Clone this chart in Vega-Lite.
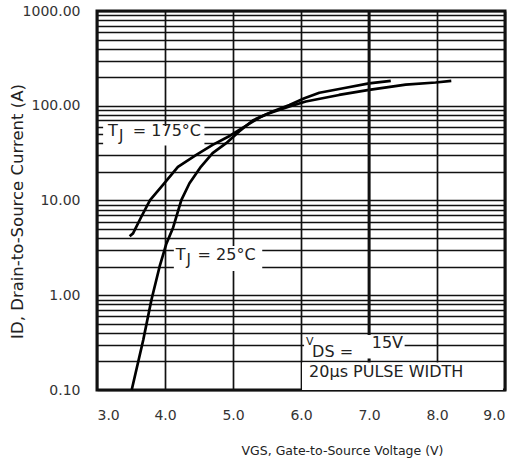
{
  "$schema": "https://vega.github.io/schema/vega-lite/v6.json",
  "width": 408,
  "height": 379,
  "autosize": {"type": "none"},
  "padding": {"left": 97, "top": 11, "right": 16, "bottom": 76},
  "background": "white",
  "config": {"view": {"stroke": "#111111", "strokeWidth": 3}, "font": "DejaVu Sans"},
  "datasets": {
    "curves": [
      {"s": "175", "v": 3.48, "i": 4.2},
      {"s": "175", "v": 3.53, "i": 4.5},
      {"s": "175", "v": 3.65, "i": 6.7},
      {"s": "175", "v": 3.78, "i": 10.1},
      {"s": "175", "v": 3.97, "i": 14.6},
      {"s": "175", "v": 4.19, "i": 22.6},
      {"s": "175", "v": 4.46, "i": 30.3},
      {"s": "175", "v": 4.70, "i": 38.6},
      {"s": "175", "v": 4.95, "i": 48},
      {"s": "175", "v": 5.20, "i": 62},
      {"s": "175", "v": 5.39, "i": 75},
      {"s": "175", "v": 5.60, "i": 88},
      {"s": "175", "v": 5.83, "i": 102},
      {"s": "175", "v": 6.05, "i": 120},
      {"s": "175", "v": 6.27, "i": 137},
      {"s": "175", "v": 6.66, "i": 155},
      {"s": "175", "v": 7.00, "i": 172},
      {"s": "175", "v": 7.32, "i": 183},
      {"s": "25", "v": 3.51, "i": 0.1},
      {"s": "25", "v": 3.68, "i": 0.337},
      {"s": "25", "v": 3.80, "i": 0.89},
      {"s": "25", "v": 3.92, "i": 2.0},
      {"s": "25", "v": 4.02, "i": 3.5},
      {"s": "25", "v": 4.12, "i": 5.2},
      {"s": "25", "v": 4.24, "i": 10.1},
      {"s": "25", "v": 4.36, "i": 15.2},
      {"s": "25", "v": 4.53, "i": 22.8},
      {"s": "25", "v": 4.70, "i": 31.6},
      {"s": "25", "v": 4.90, "i": 40.3},
      {"s": "25", "v": 5.09, "i": 53.4},
      {"s": "25", "v": 5.29, "i": 70},
      {"s": "25", "v": 5.50, "i": 82},
      {"s": "25", "v": 5.83, "i": 98},
      {"s": "25", "v": 6.07, "i": 111},
      {"s": "25", "v": 6.56, "i": 130},
      {"s": "25", "v": 7.00, "i": 147},
      {"s": "25", "v": 7.54, "i": 167},
      {"s": "25", "v": 7.98, "i": 176},
      {"s": "25", "v": 8.21, "i": 183}
    ],
    "boxes": [
      {"x": 3.09, "x2": 4.58, "y": 38, "y2": 61},
      {"x": 4.13, "x2": 5.43, "y": 1.8, "y2": 3.3},
      {"x": 6.045, "x2": 7.524, "y": 0.215, "y2": 0.38},
      {"x": 6.015, "x2": 8.97, "y": 0.1, "y2": 0.195}
    ],
    "bigtext": [
      {"x": 3.161, "y": 48, "t": "T"},
      {"x": 3.527, "y": 48, "t": "= 175°C"},
      {"x": 4.157, "y": 2.36, "t": "T"},
      {"x": 4.479, "y": 2.36, "t": "= 25°C"},
      {"x": 6.163, "y": 0.223, "t": "DS ="},
      {"x": 7.04, "y": 0.278, "t": "15V"},
      {"x": 6.119, "y": 0.138, "t": "20μs PULSE WIDTH"}
    ],
    "subj": [
      {"x": 3.322, "y": 42.6, "t": "J"},
      {"x": 4.318, "y": 2.09, "t": "J"}
    ],
    "smallv": [
      {"x": 6.075, "y": 0.2986, "t": "V"}
    ],
    "marker": [{"v": 7}]
  },
  "layer": [
    {
      "data": {"name": "curves"},
      "mark": {"type": "line", "stroke": "black", "strokeWidth": 2.7, "strokeJoin": "round"},
      "encoding": {
        "x": {
          "field": "v", "type": "quantitative",
          "scale": {"domain": [3, 9], "nice": false, "zero": false},
          "axis": {
            "values": [3, 4, 5, 6, 7, 8, 9],
            "format": ".1f",
            "grid": true, "gridColor": "#111111", "gridWidth": 1.7, "gridOpacity": 1,
            "ticks": false, "tickSize": 0, "domain": false,
            "labelFontSize": 14, "labelColor": "#333333", "labelPadding": 18,
            "labelFont": "DejaVu Sans",
            "title": "VGS, Gate-to-Source Voltage (V)",
            "titleFont": "DejaVu Sans", "titleFontSize": 12.5, "titleFontWeight": "normal",
            "titleColor": "#222222",
            "titleX": 245, "titleY": 64, "titleAlign": "center", "titleBaseline": "alphabetic"
          }
        },
        "y": {
          "field": "i", "type": "quantitative",
          "scale": {"type": "log", "domain": [0.1, 1000], "nice": false},
          "axis": {
            "values": [0.1, 0.2, 0.3, 0.4, 0.5, 0.6, 0.7, 0.8, 0.9, 1, 2, 3, 4, 5, 6, 7, 8, 9, 10, 20, 30, 40, 50, 60, 70, 80, 90, 100, 200, 300, 400, 500, 600, 700, 800, 900, 1000],
            "labelExpr": "indexof([0.1, 1, 10, 100, 1000], datum.value) >= 0 ? format(datum.value, '.2f') : ''",
            "grid": true, "gridColor": "#111111", "gridWidth": 1.7, "gridOpacity": 1,
            "ticks": false, "tickSize": 0, "domain": false,
            "labelFontSize": 14, "labelColor": "#333333", "labelPadding": 17,
            "labelFont": "DejaVu Sans",
            "title": "ID, Drain-to-Source Current  (A)",
            "titleFont": "DejaVu Sans", "titleFontSize": 16.5, "titleFontWeight": "normal",
            "titleColor": "#222222",
            "titleX": -80, "titleY": 200, "titleAngle": -90, "titleAlign": "center", "titleBaseline": "middle"
          }
        },
        "detail": {"field": "s", "type": "nominal"}
      }
    },
    {
      "data": {"name": "marker"},
      "mark": {"type": "rule", "stroke": "#111111", "strokeWidth": 2.8},
      "encoding": {"x": {"field": "v", "type": "quantitative"}}
    },
    {
      "data": {"name": "boxes"},
      "mark": {"type": "rect", "fill": "white", "stroke": null},
      "encoding": {
        "x": {"field": "x", "type": "quantitative"},
        "x2": {"field": "x2"},
        "y": {"field": "y", "type": "quantitative"},
        "y2": {"field": "y2"}
      }
    },
    {
      "data": {"name": "bigtext"},
      "mark": {"type": "text", "font": "DejaVu Sans", "fontSize": 16, "align": "left", "baseline": "alphabetic", "fill": "#222222"},
      "encoding": {
        "x": {"field": "x", "type": "quantitative"},
        "y": {"field": "y", "type": "quantitative"},
        "text": {"field": "t"}
      }
    },
    {
      "data": {"name": "subj"},
      "mark": {"type": "text", "font": "DejaVu Sans", "fontSize": 15, "align": "left", "baseline": "alphabetic", "fill": "#222222"},
      "encoding": {
        "x": {"field": "x", "type": "quantitative"},
        "y": {"field": "y", "type": "quantitative"},
        "text": {"field": "t"}
      }
    },
    {
      "data": {"name": "smallv"},
      "mark": {"type": "text", "font": "DejaVu Sans", "fontSize": 11, "align": "left", "baseline": "alphabetic", "fill": "#222222"},
      "encoding": {
        "x": {"field": "x", "type": "quantitative"},
        "y": {"field": "y", "type": "quantitative"},
        "text": {"field": "t"}
      }
    }
  ]
}
